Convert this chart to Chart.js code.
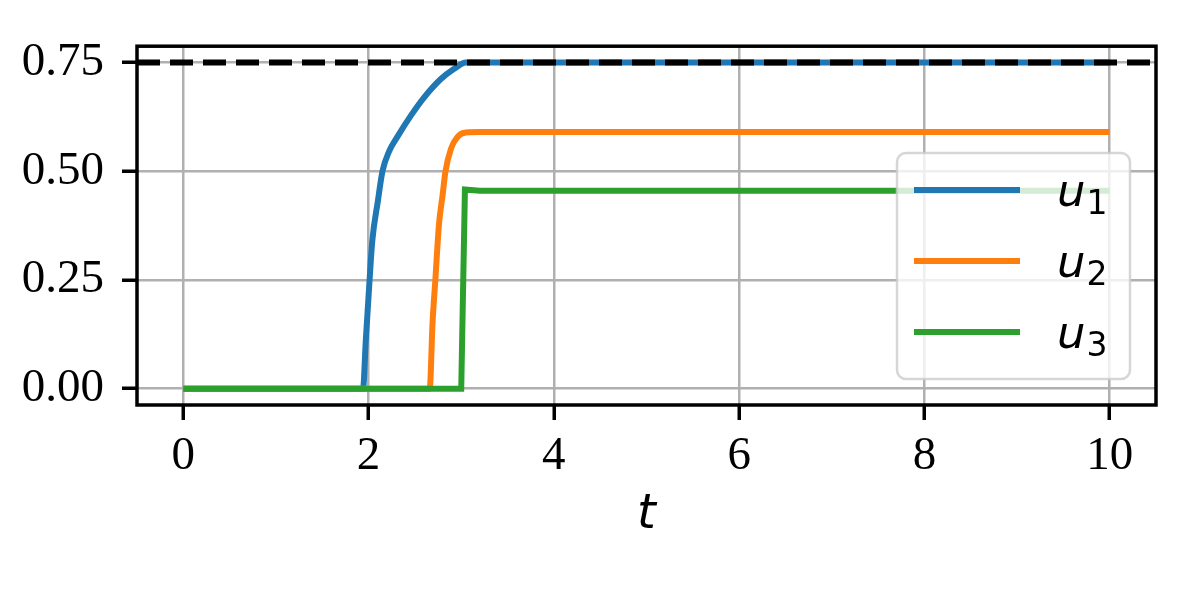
<!DOCTYPE html>
<html>
<head>
<meta charset="utf-8">
<script src="https://cdn.jsdelivr.net/npm/chart.js@4.4.0/dist/chart.umd.min.js"></script>
<style>
  html, body { margin: 0; padding: 0; background: #fff; }
  #wrap { width: 1200px; height: 600px; }
</style>
</head>
<body>
<div id="wrap"><canvas id="c" width="1200" height="600"></canvas></div>
<script>
// values
const u1Time = [0, 1.94, 1.97, 2.01, 2.04, 2.10, 2.15, 2.22, 2.31, 2.46, 2.60, 2.78, 2.92, 3.05, 10];
const u1Vals = [0, 0, 0.112, 0.248, 0.34, 0.431, 0.50, 0.545, 0.579, 0.629, 0.670, 0.712, 0.735, 0.75, 0.75];
const u2Time = [0, 2.66, 2.69, 2.72, 2.76, 2.80, 2.83, 2.89, 2.96, 3.05, 3.21, 10];
const u2Vals = [0, 0, 0.15, 0.248, 0.378, 0.447, 0.50, 0.552, 0.579, 0.589, 0.59, 0.59];
const u3Time = [0, 3.0, 3.04, 3.2, 10];
const u3Vals = [0, 0, 0.458, 0.455, 0.455];
const refLevel = 0.75;

const seriesLabels = ["u_1", "u_2", "u_3"];
const seriesColors = ["#1f77b4", "#ff7f0e", "#2ca02c"];
const xTicks = [0, 2, 4, 6, 8, 10];
const yTicks = [0, 0.25, 0.5, 0.75];
const xMin = -0.5, xMax = 10.5;
const yMin = -0.0375, yMax = 0.7875;

function toPoints(ts, vs) {
  return ts.map((t, i) => ({ x: t, y: vs[i] }));
}

const tickFont = { family: "Liberation Serif", size: 47 };
const lineW = 6;

// box around the plot (matplotlib spines)
const spines = {
  id: "spines",
  afterDatasetsDraw(chart) {
    const { ctx, chartArea: a } = chart;
    ctx.save();
    ctx.strokeStyle = "#000";
    ctx.lineWidth = 3.5;
    ctx.strokeRect(a.left, a.top, a.right - a.left, a.bottom - a.top);
    ctx.restore();
  }
};

// legend drawn inside the axes, lower right
const insideLegend = {
  id: "insideLegend",
  afterDraw(chart) {
    const { ctx, chartArea: a } = chart;
    const w = 233, h = 226;
    const x0 = a.right - 26 - w, y0 = a.bottom - 26 - h;
    ctx.save();
    ctx.beginPath();
    ctx.roundRect(x0, y0, w, h, 9);
    ctx.fillStyle = "rgba(255,255,255,0.8)";
    ctx.fill();
    ctx.strokeStyle = "rgba(204,204,204,0.8)";
    ctx.lineWidth = 2.5;
    ctx.stroke();

    seriesLabels.forEach((lab, i) => {
      const ly = y0 + 37 + i * 71;
      ctx.beginPath();
      ctx.moveTo(x0 + 17, ly);
      ctx.lineTo(x0 + 123, ly);
      ctx.strokeStyle = seriesColors[i];
      ctx.lineWidth = lineW;
      ctx.stroke();

      const [base, sub] = lab.split("_");
      ctx.fillStyle = "#000";
      ctx.textBaseline = "alphabetic";
      ctx.font = "italic 45px 'DejaVu Sans'";
      const tx = x0 + 160;
      ctx.fillText(base, tx, ly + 16);
      const bw = ctx.measureText(base).width;
      ctx.font = "33px 'DejaVu Sans'";
      ctx.fillText(sub, tx + bw + 1, ly + 24);
    });
    ctx.restore();
  }
};

new Chart(document.getElementById("c"), {
  type: "line",
  data: {
    datasets: [
      {
        label: "ref",
        data: [{ x: xMin, y: refLevel }, { x: xMax, y: refLevel }],
        borderColor: "#000",
        borderWidth: lineW,
        borderDash: [23, 10],
        order: 0
      },
      {
        label: seriesLabels[2],
        data: toPoints(u3Time, u3Vals),
        borderColor: seriesColors[2],
        borderWidth: lineW,
        order: 1
      },
      {
        label: seriesLabels[1],
        data: toPoints(u2Time, u2Vals),
        borderColor: seriesColors[1],
        borderWidth: lineW,
        cubicInterpolationMode: "monotone",
        order: 2
      },
      {
        label: seriesLabels[0],
        data: toPoints(u1Time, u1Vals),
        borderColor: seriesColors[0],
        borderWidth: lineW,
        cubicInterpolationMode: "monotone",
        order: 3
      }
    ]
  },
  options: {
    responsive: false,
    animation: false,
    layout: { padding: { left: 0, top: 45, right: 44, bottom: 0 } },
    elements: { point: { radius: 0 }, line: { borderCapStyle: "butt" } },
    plugins: { legend: { display: false }, tooltip: { enabled: false } },
    scales: {
      x: {
        type: "linear",
        min: xMin,
        max: xMax,
        afterBuildTicks: (s) => { s.ticks = xTicks.map((v) => ({ value: v })); },
        afterFit: (s) => { s.height = 195; },
        ticks: { font: tickFont, color: "#000", padding: 8, maxRotation: 0, autoSkip: false,
                 callback: (v) => String(v) },
        grid: { color: "#b0b0b0", lineWidth: 2.5, tickColor: "#000", tickLength: 15, tickWidth: 3.5 },
        border: { display: false },
        title: { display: true, text: "t", color: "#000",
                 font: { family: "DejaVu Sans", size: 48, style: "italic" },
                 padding: { top: 0, bottom: 56 } }
      },
      y: {
        min: yMin,
        max: yMax,
        afterBuildTicks: (s) => { s.ticks = yTicks.map((v) => ({ value: v })); },
        afterFit: (s) => { s.width = 137; },
        ticks: { font: tickFont, color: "#000", padding: 18, autoSkip: false,
                 callback: (v) => v.toFixed(2) },
        grid: { color: "#b0b0b0", lineWidth: 2.5, tickColor: "#000", tickLength: 15, tickWidth: 3.5 },
        border: { display: false }
      }
    }
  },
  plugins: [spines, insideLegend]
});
</script>
</body>
</html>
